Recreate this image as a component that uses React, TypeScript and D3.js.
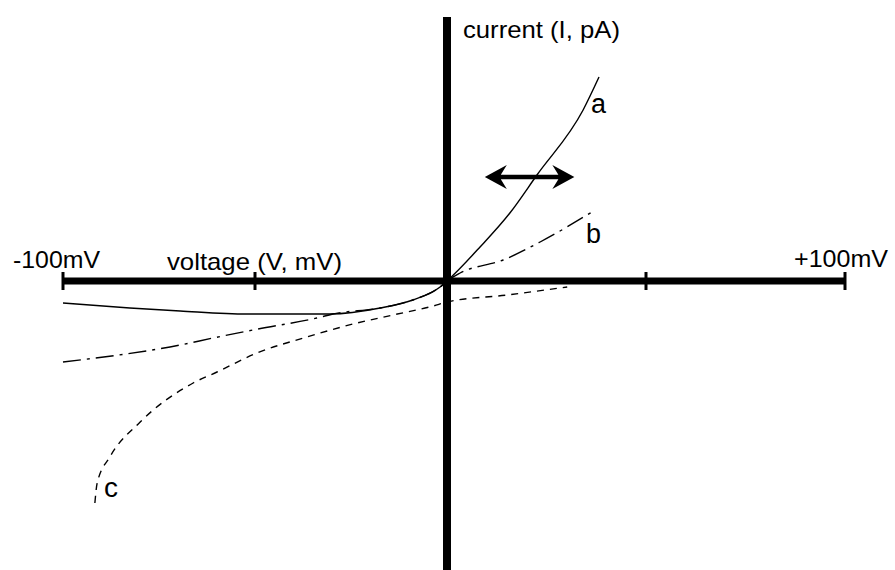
import React, { useEffect, useRef } from "react";
import * as d3 from "d3";

// voltage (mV) / current (pA, arbitrary units)
const curveA = [
  [-100, -2.2], [-82.6, -2.7], [-69.5, -3.0], [-52.1, -3.3], [-40.9, -3.3],
  [-30.5, -3.3], [-17.4, -2.7], [-8.9, -1.9], [-1.8, -0.6], [0, 0],
  [8.3, 3.4], [15.8, 6.8], [22.6, 10.6], [34.2, 17.1], [38.2, 20.4],
];
const curveB = [
  [-100, -8.1], [-69.5, -6.4], [-60.9, -5.7], [-49.2, -4.8], [-33.9, -3.7],
  [-29.7, -3.3], [-17.4, -2.7], [-8.9, -1.9], [-1.8, -0.6], [0, 0],
  [3.3, 0.8], [14.1, 2.1], [23.4, 3.9], [36.4, 6.9],
];
const curveC = [
  [-91.7, -22.2], [-91.1, -20.2], [-87.8, -17.6], [-79.9, -14.1], [-66.1, -10.2],
  [-59.9, -9.1], [-49.5, -7.2], [-36.5, -5.6], [-24.5, -4.3], [-14.1, -3.4],
  [-3.6, -2.5], [0, -2.1], [15.1, -1.4], [30.2, -0.6],
];
const tickValues = [-100, -50, 50, 100];
const arrowRange = [9.5, 32];
const arrowCurrent = 10.4;

const W = 895;
const H = 570;

const App = () => {
  const ref = useRef<SVGSVGElement>(null);

  useEffect(() => {
    const svg = d3.select(ref.current);
    svg.selectAll("*").remove();

    const x = d3.scaleLinear().domain([-100, 0, 100]).range([63, 447, 845]);
    const y = d3.scaleLinear().domain([-28.9, 26.4]).range([570, 17]);

    svg.append("rect").attr("width", W).attr("height", H).attr("fill", "#fff");

    // axes
    svg.append("line")
      .attr("x1", x(-100)).attr("x2", x(100))
      .attr("y1", y(0)).attr("y2", y(0))
      .attr("stroke", "#000").attr("stroke-width", 7);
    svg.append("line")
      .attr("x1", x(0)).attr("x2", x(0))
      .attr("y1", y(26.4)).attr("y2", y(-28.9))
      .attr("stroke", "#000").attr("stroke-width", 8);

    svg.selectAll(".tick")
      .data(tickValues)
      .join("line")
      .attr("x1", (d) => x(d)).attr("x2", (d) => x(d))
      .attr("y1", y(0) - 9).attr("y2", y(0) + 9)
      .attr("stroke", "#000").attr("stroke-width", 3);

    const line = d3.line()
      .x((d) => x(d[0]))
      .y((d) => y(d[1]))
      .curve(d3.curveMonotoneX);

    svg.append("path").datum(curveA).attr("d", line)
      .attr("fill", "none").attr("stroke", "#000").attr("stroke-width", 1.4);
    svg.append("path").datum(curveB).attr("d", line)
      .attr("fill", "none").attr("stroke", "#000").attr("stroke-width", 1.4)
      .attr("stroke-dasharray", "18 6 3 6");
    svg.append("path").datum(curveC).attr("d", line)
      .attr("fill", "none").attr("stroke", "#000").attr("stroke-width", 1.4)
      .attr("stroke-dasharray", "7 6");

    // double headed arrow
    const ax1 = x(arrowRange[0]);
    const ax2 = x(arrowRange[1]);
    const ay = y(arrowCurrent);
    const hl = 22, hh = 12, notch = 16, sw = 2.2;
    const arrow = d3.path();
    arrow.moveTo(ax1, ay);
    arrow.lineTo(ax1 + hl, ay - hh);
    arrow.lineTo(ax1 + notch, ay - sw);
    arrow.lineTo(ax2 - notch, ay - sw);
    arrow.lineTo(ax2 - hl, ay - hh);
    arrow.lineTo(ax2, ay);
    arrow.lineTo(ax2 - hl, ay + hh);
    arrow.lineTo(ax2 - notch, ay + sw);
    arrow.lineTo(ax1 + notch, ay + sw);
    arrow.lineTo(ax1 + hl, ay + hh);
    arrow.closePath();
    svg.append("path").attr("d", arrow.toString()).attr("fill", "#000");

    const text = (s: string, tx: number, ty: number, len: number, size = 24) =>
      svg.append("text")
        .attr("x", tx).attr("y", ty)
        .attr("font-family", "Liberation Sans, Arial, sans-serif")
        .attr("font-size", size)
        .attr("textLength", len)
        .attr("lengthAdjust", "spacingAndGlyphs")
        .attr("fill", "#000")
        .text(s);

    text("-100mV", x(-100) - 50, y(0) - 13, 87);
    text("voltage (V, mV)", 167, y(0) - 11, 175);
    text("+100mV", x(100) - 51, y(0) - 14, 94);
    text("current (I, pA)", x(0) + 16, 38, 157);
    text("a", 591, 113, 15, 27);
    text("b", 586, 243, 15, 27);
    text("c", 104, 497, 14, 27);
  }, []);

  return (
    <svg
      ref={ref}
      width={W}
      height={H}
      style={{ position: "absolute", left: 0, top: 0 }}
    ></svg>
  );
};

export default App;
